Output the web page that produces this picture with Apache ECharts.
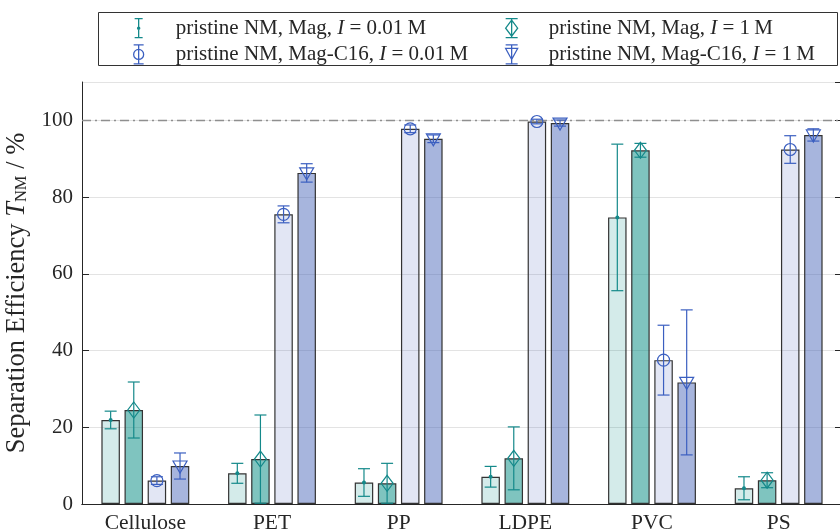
<!DOCTYPE html>
<html>
<head>
<meta charset="utf-8">
<title>Separation efficiency</title>
<style>
  html, body { margin: 0; padding: 0; background: #fff; }
  #main { width: 840px; height: 532px; }
</style>
</head>
<body>
<div id="main"></div>
<script src="https://cdn.jsdelivr.net/npm/echarts@6/dist/echarts.min.js"></script>
<script>
var categories = ['Cellulose', 'PET', 'PP', 'LDPE', 'PVC', 'PS'];
var seriesNames = [
  'pristine NM, Mag, I = 0.01\u2009M',
  'pristine NM, Mag, I = 1\u2009M',
  'pristine NM, Mag-C16, I = 0.01\u2009M',
  'pristine NM, Mag-C16, I = 1\u2009M'
];
// mean values and error (+/-) per series
var magLow = [21.9, 8.0, 5.6, 7.1, 74.7, 4.1];
var magLowErr = [2.3, 2.6, 3.6, 2.7, 19.1, 3.0];
var magHigh = [24.5, 11.7, 5.4, 11.9, 92.2, 6.2];
var magHighErr = [7.3, 11.5, 5.2, 8.2, 1.8, 1.95];
var c16Low = [6.1, 75.5, 97.8, 99.7, 37.5, 92.4];
var c16LowErr = [1.0, 2.2, 1.0, 0.6, 9.1, 3.6];
var c16High = [9.9, 86.3, 95.2, 99.3, 31.7, 96.2];
var c16HighErr = [3.4, 2.4, 1.0, 0.8, 18.9, 1.6];
var refLine = 100;
var yMin = 0, yMax = 110, yStep = 20;

var means = [magLow, magHigh, c16Low, c16High];
var errs = [magLowErr, magHighErr, c16LowErr, c16HighErr];

var FONT = 'Liberation Serif';
var TXT = '#262626';
var teal = '#14898a';
var blue = '#3b5fc0';
var barFill = ['rgba(0,137,128,0.17)', 'rgba(0,137,128,0.5)', 'rgba(60,90,180,0.15)', 'rgba(60,90,180,0.45)'];
var markColor = [teal, teal, blue, blue];
var barW = 18.5;
var step = barW * 1.25;

var icons = [
  'path://M0,0M64,21M28,1L36,1M32,1L32,20M28,20L36,20M30.9,10.5A1.1,1.1,0,1,0,33.1,10.5A1.1,1.1,0,1,0,30.9,10.5',
  'path://M0,0M64,21M26,1L38,1M32,1L32,20M26,20L38,20M32,2.5L38,10.5L32,18.5L26,10.5Z',
  'path://M0,0M64,21M27,1L37,1M32,1L32,20M27,20L37,20M27,10.5A5,5,0,1,0,37,10.5A5,5,0,1,0,27,10.5',
  'path://M0,0M64,21M26,1L38,1M32,1L32,20M26,20L38,20M26,4.5L38,4.5L32,15.5Z'
];

function marker(k, x, y, st) {
  if (k === 0) return {type: 'circle', shape: {cx: x, cy: y, r: 2}, style: {fill: markColor[k]}};
  if (k === 1) return {type: 'polygon', shape: {points: [[x, y - 8], [x + 6, y], [x, y + 8], [x - 6, y]]}, style: st};
  if (k === 2) return {type: 'circle', shape: {cx: x, cy: y, r: 6}, style: st};
  return {type: 'polygon', shape: {points: [[x - 7, y - 5], [x + 7, y - 5], [x, y + 7]]}, style: st};
}

function errorSeries(k) {
  return {
    name: seriesNames[k],
    type: 'custom',
    z: 5,
    data: categories.map(function (c, i) {
      return [i, means[k][i], means[k][i] - errs[k][i], means[k][i] + errs[k][i]];
    }),
    encode: {x: 0, y: [1, 2, 3]},
    renderItem: function (params, api) {
      var i = api.value(0);
      var m = api.coord([i, api.value(1)]);
      var lo = api.coord([i, api.value(2)]);
      var hi = api.coord([i, api.value(3)]);
      var x = m[0] + (k - 1.5) * step;
      var st = {stroke: markColor[k], lineWidth: 1.2, fill: 'none'};
      return {
        type: 'group',
        children: [
          {type: 'line', shape: {x1: x, y1: lo[1], x2: x, y2: hi[1]}, style: st},
          {type: 'line', shape: {x1: x - 6, y1: lo[1], x2: x + 6, y2: lo[1]}, style: st},
          {type: 'line', shape: {x1: x - 6, y1: hi[1], x2: x + 6, y2: hi[1]}, style: st},
          marker(k, x, m[1], st)
        ]
      };
    }
  };
}

function barSeries(k) {
  var s = {
    name: 'bar' + k,
    type: 'bar',
    barWidth: barW,
    barGap: '25%',
    z: 2,
    data: means[k],
    itemStyle: {color: barFill[k], borderColor: '#333', borderWidth: 1.2}
  };
  if (k === 0) {
    s.markLine = {
      silent: true, symbol: 'none', label: {show: false},
      lineStyle: {color: '#8f8f8f', width: 1.3, type: [9, 4, 2, 4]},
      data: [{yAxis: refLine}]
    };
  }
  return s;
}

function legendFmt(name) {
  var j = name.indexOf('I =');
  return '{a|' + name.slice(0, j) + '}{i|I}{a|' + name.slice(j + 1) + '}';
}
var legendText = {
  fontFamily: FONT, fontSize: 21, color: TXT, lineHeight: 21,
  rich: {
    a: {fontFamily: FONT, fontSize: 21, color: TXT, lineHeight: 21},
    i: {fontFamily: FONT, fontSize: 21, color: TXT, lineHeight: 21, fontStyle: 'italic'}
  }
};
function legendItem(k) {
  return {name: seriesNames[k], icon: icons[k],
    itemStyle: {color: 'transparent', borderColor: markColor[k], borderWidth: 1.3}};
}

var myChart = echarts.init(document.getElementById('main'));
var option = {
  backgroundColor: '#fff',
  animation: false,
  graphic: [{
    type: 'rect', z: 0, left: 98, top: 12,
    shape: {width: 739, height: 53},
    style: {fill: '#fff', stroke: '#333', lineWidth: 1}
  }],
  legend: [
    {
      orient: 'vertical', left: 106, top: 17, padding: 0, itemWidth: 64, itemHeight: 21, itemGap: 4,
      selectedMode: false, formatter: legendFmt, textStyle: legendText,
      data: [legendItem(0), legendItem(2)]
    },
    {
      orient: 'vertical', left: 479, top: 17, padding: 0, itemWidth: 64, itemHeight: 21, itemGap: 4,
      selectedMode: false, formatter: legendFmt, textStyle: legendText,
      data: [legendItem(1), legendItem(3)]
    }
  ],
  grid: {left: 82, right: -2, top: 82, bottom: 28, containLabel: false, outerBoundsMode: 'none'},
  xAxis: [
    {
      type: 'category', data: categories,
      axisLine: {lineStyle: {color: TXT, width: 1}},
      axisTick: {inside: true, alignWithLabel: true, length: 7, lineStyle: {color: '#555'}},
      axisLabel: {fontFamily: FONT, fontSize: 21.5, color: TXT, margin: 8},
      splitLine: {show: false}
    },
    {
      type: 'category', data: categories, position: 'top',
      axisLine: {lineStyle: {color: TXT, width: 1}},
      axisTick: {inside: true, alignWithLabel: true, length: 7, lineStyle: {color: TXT}},
      axisLabel: {show: false}, splitLine: {show: false}
    }
  ],
  yAxis: [
    {
      type: 'value', min: yMin, max: yMax, interval: yStep,
      name: '{n|Separation Efficiency }{i|T}{s|NM}{n| / %}',
      nameLocation: 'middle', nameGap: 47,
      nameTextStyle: {
        fontFamily: FONT, fontSize: 26.5, color: TXT,
        rich: {
          n: {fontFamily: FONT, fontSize: 26.5, color: TXT},
          i: {fontFamily: FONT, fontSize: 26.5, color: TXT, fontStyle: 'italic'},
          s: {fontFamily: FONT, fontSize: 16.5, color: TXT, padding: [11, 0, 0, 0]}
        }
      },
      axisLine: {show: true, lineStyle: {color: TXT, width: 1}},
      axisTick: {show: true, inside: true, length: 7, lineStyle: {color: TXT}},
      axisLabel: {
        fontFamily: FONT, fontSize: 21, color: TXT, margin: 9, showMaxLabel: false,
        formatter: function (v) { return v > 100 ? '' : String(v); }
      },
      splitLine: {show: true, lineStyle: {color: '#e3e3e3', width: 1.2}}
    },
    {
      type: 'value', min: yMin, max: yMax, interval: yStep, position: 'right',
      axisLine: {show: true, lineStyle: {color: TXT, width: 1}},
      axisTick: {show: true, inside: true, length: 7, lineStyle: {color: TXT}},
      axisLabel: {show: false}, splitLine: {show: false}
    }
  ],
  series: [
    barSeries(0), barSeries(1), barSeries(2), barSeries(3),
    errorSeries(0), errorSeries(1), errorSeries(2), errorSeries(3)
  ]
};
myChart.setOption(option);
</script>
</body>
</html>
